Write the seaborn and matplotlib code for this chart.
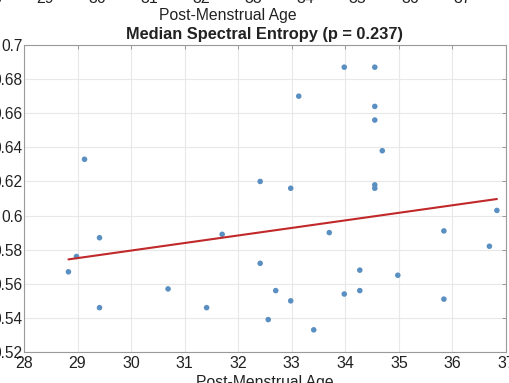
import numpy as np
import pandas as pd
import matplotlib
matplotlib.use("Agg")
import matplotlib.pyplot as plt
import seaborn as sns

# Data
pma = [28.83, 28.98, 29.13, 29.41, 29.41, 30.69, 31.41, 31.70,
       32.41, 32.41, 32.56, 32.70, 32.98, 32.98, 33.13, 33.41,
       33.70, 33.98, 33.98, 34.27, 34.27, 34.55, 34.55, 34.55,
       34.55, 34.55, 34.69, 34.98, 35.84, 35.84, 36.69, 36.83]
entropy = [0.567, 0.576, 0.633, 0.587, 0.546, 0.557, 0.546, 0.589,
           0.620, 0.572, 0.539, 0.556, 0.616, 0.550, 0.670, 0.533,
           0.590, 0.687, 0.554, 0.568, 0.556, 0.687, 0.664, 0.656,
           0.618, 0.616, 0.638, 0.565, 0.591, 0.551, 0.582, 0.603]
fit_pma = [28.83, 36.83]
fit_entropy = [0.5743, 0.6097]

title = "Median Spectral Entropy (p = 0.237)"
xlabel = "Post-Menstrual Age"
xticks = [28, 29, 30, 31, 32, 33, 34, 35, 36, 37]
yticks = [0.52, 0.54, 0.56, 0.58, 0.60, 0.62, 0.64, 0.66, 0.68, 0.70]
ytick_labels = ["0.52", "0.54", "0.56", "0.58", "0.6", "0.62", "0.64", "0.66", "0.68", "0.7"]

sns.set_theme(style="white")
plt.rcParams['font.family'] = ['Liberation Sans', 'DejaVu Sans']

W, H = 510, 383
fig = plt.figure(figsize=(W / 100, H / 100), dpi=100)

def style_axes(ax):
    for s in ax.spines.values():
        s.set_color('#9a9a9a')
        s.set_linewidth(0.8)
    ax.grid(True, color='#e8e8e8', linewidth=0.8)
    ax.set_axisbelow(True)
    ax.tick_params(direction='in', length=3, width=0.6, color='#8a8a8a',
                   labelsize=11.5, labelcolor='#222222', pad=3,
                   top=True, right=True)

# Main axes
ax = fig.add_axes([24 / W, 1 - 352 / H, (506 - 24) / W, (352 - 45) / H])
df = pd.DataFrame({"pma": pma, "entropy": entropy})
sns.scatterplot(data=df, x="pma", y="entropy", ax=ax, color='#5a8fc2',
                s=16, edgecolor='none', zorder=3)
sns.lineplot(x=fit_pma, y=fit_entropy, ax=ax, color='#c0282a', linewidth=1.5,
             zorder=4)
ax.set_xlim(28, 37)
ax.set_ylim(0.52, 0.70)
ax.set_xticks(xticks)
ax.set_yticks(yticks)
ax.set_yticklabels(ytick_labels)
style_axes(ax)
ax.tick_params(axis='y', pad=1, labelsize=11.2)
ax.set_xlabel(xlabel, fontsize=11.3, color='#222222', labelpad=3)
ax.set_ylabel("")
ax.set_title(title, fontsize=11.8, fontweight='bold', color='#222222', pad=4)

# Upper (cropped) axes of the previous chart
ax2 = fig.add_axes([-7 / W, 1 + 13 / H, (462 + 7) / W, 200 / H])
ax2.set_xlim(28, 37)
ax2.set_xticks(xticks)
ax2.set_yticks([])
style_axes(ax2)
ax2.set_xlabel(xlabel, fontsize=11.3, color='#222222', labelpad=1)

fig.savefig("out.png", dpi=100)
